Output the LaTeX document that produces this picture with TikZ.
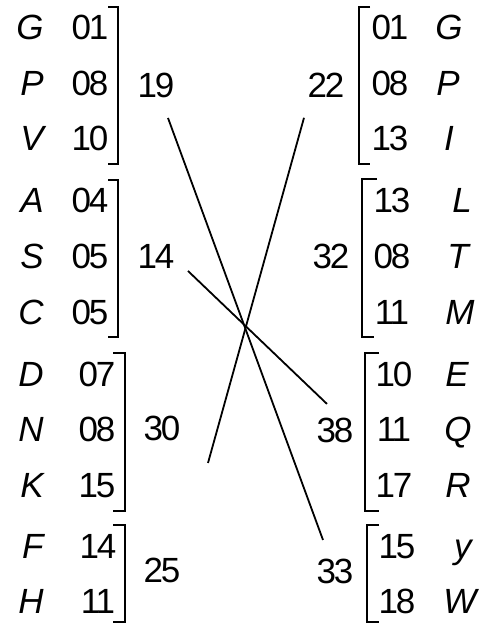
\documentclass[tikz,border=0pt]{standalone}
\usepackage{fontspec}
\setmainfont{Liberation Sans}
\newfontfamily\digitfont{Liberation Sans}[LetterSpace=-6]
\usetikzlibrary{calc}

\begin{document}
\begin{tikzpicture}[
  x=0.5pt, y=-0.5pt,
  font=\fontsize{17.5}{20}\selectfont,
  lbl/.style = {inner sep=0pt, anchor=base},
  num/.style = {lbl, font=\fontsize{17.5}{20}\selectfont\digitfont},
  let/.style = {lbl, font=\fontsize{17.5}{20}\selectfont\itshape},
  brk/.style = {line width=0.65pt},
  cross/.style = {line width=0.9pt},
]
\useasboundingbox (0,0) rectangle (484,623);

% left column: letter, value
\foreach \ch/\val/\nx/\ny in {G/01/90/39, P/08/90/95, V/10/90/150,
    A/04/90/212, S/05/90/268, C/05/90/324, D/07/97/386, N/08/97/441,
    K/15/97/497, F/14/98/558, H/11/98/613} {
  \node[let, anchor=base east] at (44,\ny) (l\ch) {\ch};
  \node[num] at (\nx,\ny) (n\ch) {\val};
}

% right column: value, letter
\foreach \ch/\val/\nx/\cx/\ny in {G/01/390/449/39, P/08/390/448/95,
    I/13/390/449/150, L/13/392/462/212, T/08/392/458/268, M/11/392/460/324,
    E/10/394/457/386, Q/11/394/458/441, R/17/394/458/497,
    y/15/397/463/558, W/18/397/460/613} {
  \node[num] at (\nx,\ny) (m\ch) {\val};
  \node[let] at (\cx,\ny) (r\ch) {\ch};
}

% group sums
\node[num] at (156,97)  (s19) {19};
\node[num] at (156,268) (s14) {14};
\node[num] at (162,440) (s30) {30};
\node[num] at (162,582) (s25) {25};
\node[num] at (326,97)  (s22) {22};
\node[num] at (331,268) (s32) {32};
\node[num] at (335,442) (s38) {38};
\node[num] at (335,583) (s33) {33};

% brackets
\draw[brk] (108,7)   -| (118,164) -- (108,164);
\draw[brk] (108,180) -| (118,337) -- (108,337);
\draw[brk] (113,353) -| (125,511) -- (113,511);
\draw[brk] (113,525) -| (125,622) -- (113,622);
\draw[brk] (370,7)   -| (359,164) -- (370,164);
\draw[brk] (377,179) -| (362,337) -- (374,337);
\draw[brk] (379,353) -| (365,511) -- (379,511);
\draw[brk] (379,525) -| (367,622) -- (379,622);

% line ends
\coordinate (a19) at ($(s19.center)+(12,33)$);
\coordinate (a14) at ($(s14.center)+(32,15)$);
\coordinate (a30) at ($(s30.center)+(46,35)$);
\coordinate (b33) at ($(s33.center)+(-12,-31)$);
\coordinate (b38) at ($(s38.center)+(-8,-26)$);
\coordinate (b22) at ($(s22.center)+(-22,33)$);

\foreach \a/\b in {a19/b33, a14/b38, a30/b22}
  \draw[cross] (\a) -- (\b);
\end{tikzpicture}
\end{document}
